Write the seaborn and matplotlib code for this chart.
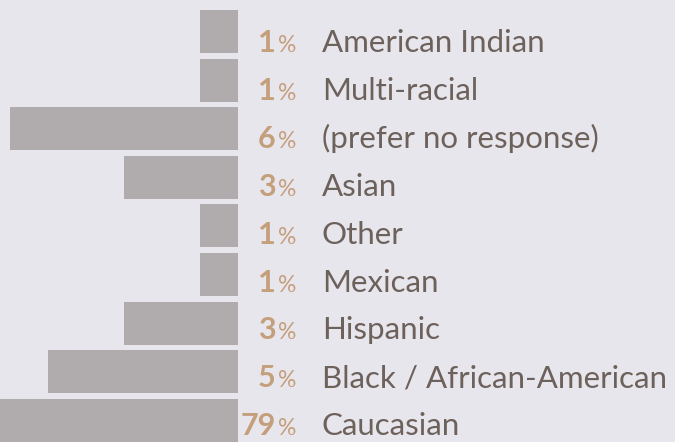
import pandas as pd
import seaborn as sb
from matplotlib import pyplot as plt
from matplotlib import transforms

# ethnicity breakdown, top to bottom as in the chart
groups = [
    "American Indian", "Multi-racial", "(prefer no response)", "Asian", "Other",
    "Mexican", "Hispanic", "Black / African-American", "Caucasian",
]
percent = [1, 1, 6, 3, 1, 1, 3, 5, 79]

BG = "#e8e6ed"
BAR = "#b0abad"
PCT = "#c49f7c"
LABEL = "#6d615b"


def main():
    df = pd.DataFrame({"group": groups, "percent": percent})

    sb.set_style("white")
    plt.rcParams["font.family"] = ["Lato", "DejaVu Sans"]

    fig = plt.figure(figsize=(6.75, 4.42), dpi=100, facecolor=BG)
    ax = fig.add_axes([0, 0, 1, 1])
    ax.set_facecolor(BG)

    sb.barplot(data=df, y="group", x="percent", orient="h", color=BAR,
               width=0.885, saturation=1, linewidth=0, ax=ax)

    # bars grow to the left from x=238px, ~38px per percent
    ax.set_xlim(6.26, -11.5)
    ax.set_ylim(8.446, -0.648)
    ax.axis("off")

    trans = transforms.blended_transform_factory(ax.transAxes, ax.transData)
    for i, (g, p) in enumerate(zip(groups, percent)):
        y = i + 0.43 - i * 0.016
        ax.text(0.4385, y, "%", transform=trans, ha="right", va="baseline",
                fontsize=16.5, color=PCT)
        ax.annotate(str(p), (0.4385, y), xycoords=trans, xytext=(-14.5, 0),
                    textcoords="offset points", ha="right", va="baseline",
                    fontsize=22, color=PCT, fontweight="bold")
        ax.text(0.477, y, g, transform=trans, ha="left", va="baseline",
                fontsize=22.5, color=LABEL)

    plt.savefig("out.png", dpi=100, facecolor=BG)


if __name__ == "__main__":
    main()
